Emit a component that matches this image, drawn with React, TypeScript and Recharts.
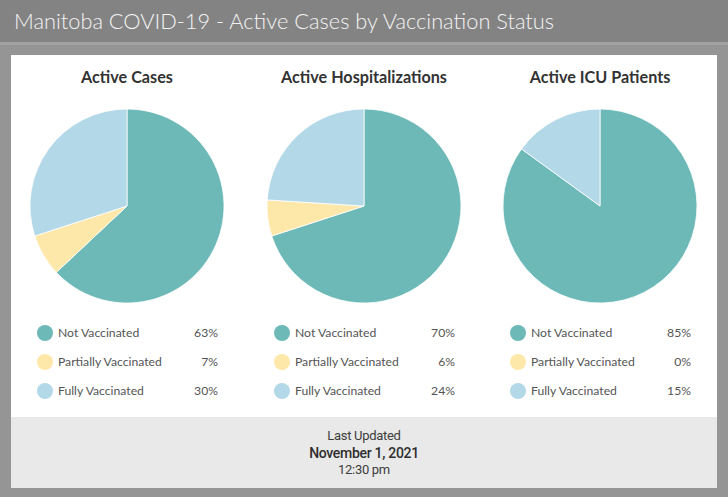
import React from 'react';
import { PieChart, Pie, Cell } from 'recharts';

const categories = ['Not Vaccinated', 'Partially Vaccinated', 'Fully Vaccinated'];
const colors = ['#6cb9b7', '#fde7a9', '#b3d8e7'];
const chartTitles = ['Active Cases', 'Active Hospitalizations', 'Active ICU Patients'];
const activeCases = [63, 7, 30];
const activeHospitalizations = [70, 6, 24];
const activeICU = [85, 0, 15];
const seriesList = [activeCases, activeHospitalizations, activeICU];
const mainTitle = 'Manitoba COVID-19 - Active Cases by Vaccination Status';
const footerLines = ['Last Updated', 'November 1, 2021', '12:30 pm'];

const centers = [127, 364, 600];
const FONT = "Lato, 'Open Sans', sans-serif";

export default function App() {
  return (
    <div
      style={{
        position: 'absolute',
        left: 0,
        top: 0,
        width: 728,
        height: 497,
        background: '#959595',
        fontFamily: FONT,
        overflow: 'hidden',
      }}
    >
      <div
        style={{
          position: 'absolute',
          left: 0,
          top: 0,
          width: 728,
          height: 42,
          background: '#838383',
          borderBottom: '3px solid #a2a2a2',
        }}
      >
        <div
          style={{
            position: 'absolute',
            left: 14,
            top: 7,
            fontSize: 21.8,
            fontWeight: 300,
            color: '#f4f4f4',
            whiteSpace: 'nowrap',
          }}
        >
          {mainTitle}
        </div>
      </div>
      <div
        style={{
          position: 'absolute',
          left: 11,
          top: 55,
          width: 706,
          height: 362,
          background: '#ffffff',
        }}
      />
      <div
        style={{
          position: 'absolute',
          left: 11,
          top: 417,
          width: 706,
          height: 71,
          background: '#e9e9e9',
          textAlign: 'center',
          color: '#3c3c3c',
          fontFamily: "Roboto, sans-serif",
        }}
      >
        <div style={{ position: 'absolute', left: 0, width: 706, top: 11, fontSize: 13, lineHeight: '16px', letterSpacing: -0.3 }}>
          {footerLines[0]}
        </div>
        <div style={{ position: 'absolute', left: 0, width: 706, top: 28, fontSize: 14, lineHeight: '17px', fontWeight: 500, color: '#2e2e2e', letterSpacing: -0.3 }}>
          {footerLines[1]}
        </div>
        <div style={{ position: 'absolute', left: 0, width: 706, top: 45, fontSize: 13, lineHeight: '16px', letterSpacing: -0.3 }}>
          {footerLines[2]}
        </div>
      </div>

      {chartTitles.map((t, i) => (
        <div
          key={t}
          style={{
            position: 'absolute',
            left: centers[i] - 120,
            width: 240,
            top: 67,
            textAlign: 'center',
            fontSize: 16.2,
            fontWeight: 700,
            color: '#333',
          }}
        >
          {t}
        </div>
      ))}

      <div style={{ position: 'absolute', left: 0, top: 0 }}>
        <PieChart width={728} height={420} margin={{ top: 0, right: 0, bottom: 0, left: 0 }}>
          {seriesList.map((series, i) => (
            <Pie
              key={chartTitles[i]}
              data={categories.map((c, k) => ({ name: c, value: series[k] }))}
              dataKey="value"
              nameKey="name"
              cx={centers[i]}
              cy={206}
              outerRadius={97}
              startAngle={90}
              endAngle={-270}
              stroke="#ffffff"
              strokeWidth={0.8}
              isAnimationActive={false}
            >
              {categories.map((c, k) => (
                <Cell key={c} fill={colors[k]} />
              ))}
            </Pie>
          ))}
        </PieChart>
      </div>

      {seriesList.map((series, i) =>
        categories.map((c, k) => (
          <div key={chartTitles[i] + c}>
            <div
              style={{
                position: 'absolute',
                left: centers[i] - 90,
                top: 333 + k * 29 - 8,
                width: 16,
                height: 16,
                borderRadius: 8,
                background: colors[k],
              }}
            />
            <div
              style={{
                position: 'absolute',
                left: centers[i] - 69,
                top: 333 + k * 29 - 8,
                fontSize: 12.2,
                lineHeight: '16px',
                color: '#555',
                whiteSpace: 'nowrap',
              }}
            >
              {c}
            </div>
            <div
              style={{
                position: 'absolute',
                left: centers[i] + 40,
                width: 51,
                top: 333 + k * 29 - 8,
                fontSize: 12.2,
                lineHeight: '16px',
                color: '#555',
                textAlign: 'right',
              }}
            >
              {series[k]}%
            </div>
          </div>
        ))
      )}
    </div>
  );
}
